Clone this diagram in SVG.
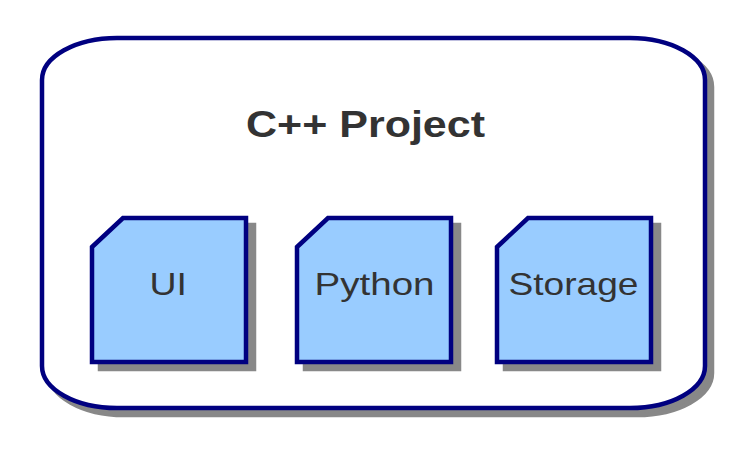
<svg xmlns="http://www.w3.org/2000/svg" width="746" height="454" viewBox="0 0 746 454">
  <defs>
    <style>
      .shadow { fill: #888888; stroke: #888888; stroke-width: 4.5; }
      .outer { fill: #ffffff; stroke: #000080; stroke-width: 4.5; }
      .comp { fill: #99ccff; stroke: #000080; stroke-width: 4.5; stroke-linejoin: miter; }
      .title { font-family: "Liberation Sans", Arial, sans-serif; font-weight: bold; font-size: 37px; fill: #333333; }
      .label { font-family: "Liberation Sans", Arial, sans-serif; font-size: 32px; fill: #333333; }
    </style>
    <path id="outerShape" d="M117,38 H630 A75,42 0 0 1 705,80 V366 A75,42 0 0 1 630,408 H117 A75,42 0 0 1 42,366 V80 A75,42 0 0 1 117,38 Z"/>
    <path id="compShape" d="M0,29 L31,0 H154 V144 H0 Z"/>
  </defs>
  <rect width="746" height="454" fill="#ffffff"/>
  <g id="cpp-project">
    <use href="#outerShape" class="shadow" transform="translate(7,7)"/>
    <use href="#outerShape" class="outer"/>
    <text class="title" x="246" y="137" textLength="239" lengthAdjust="spacingAndGlyphs">C++ Project</text>
  </g>
  <g id="ui">
    <use href="#compShape" class="shadow" transform="translate(100,225)"/>
    <use href="#compShape" class="comp" transform="translate(92,218)"/>
    <text class="label" x="149.5" y="295" textLength="37.5" lengthAdjust="spacingAndGlyphs">UI</text>
  </g>
  <g id="python">
    <use href="#compShape" class="shadow" transform="translate(305,225)"/>
    <use href="#compShape" class="comp" transform="translate(297,218)"/>
    <text class="label" x="314.5" y="295" textLength="120" lengthAdjust="spacingAndGlyphs">Python</text>
  </g>
  <g id="storage">
    <use href="#compShape" class="shadow" transform="translate(505,225)"/>
    <use href="#compShape" class="comp" transform="translate(497,218)"/>
    <text class="label" x="508.5" y="295" textLength="130" lengthAdjust="spacingAndGlyphs">Storage</text>
  </g>
  <g id="connectors"></g>
</svg>
